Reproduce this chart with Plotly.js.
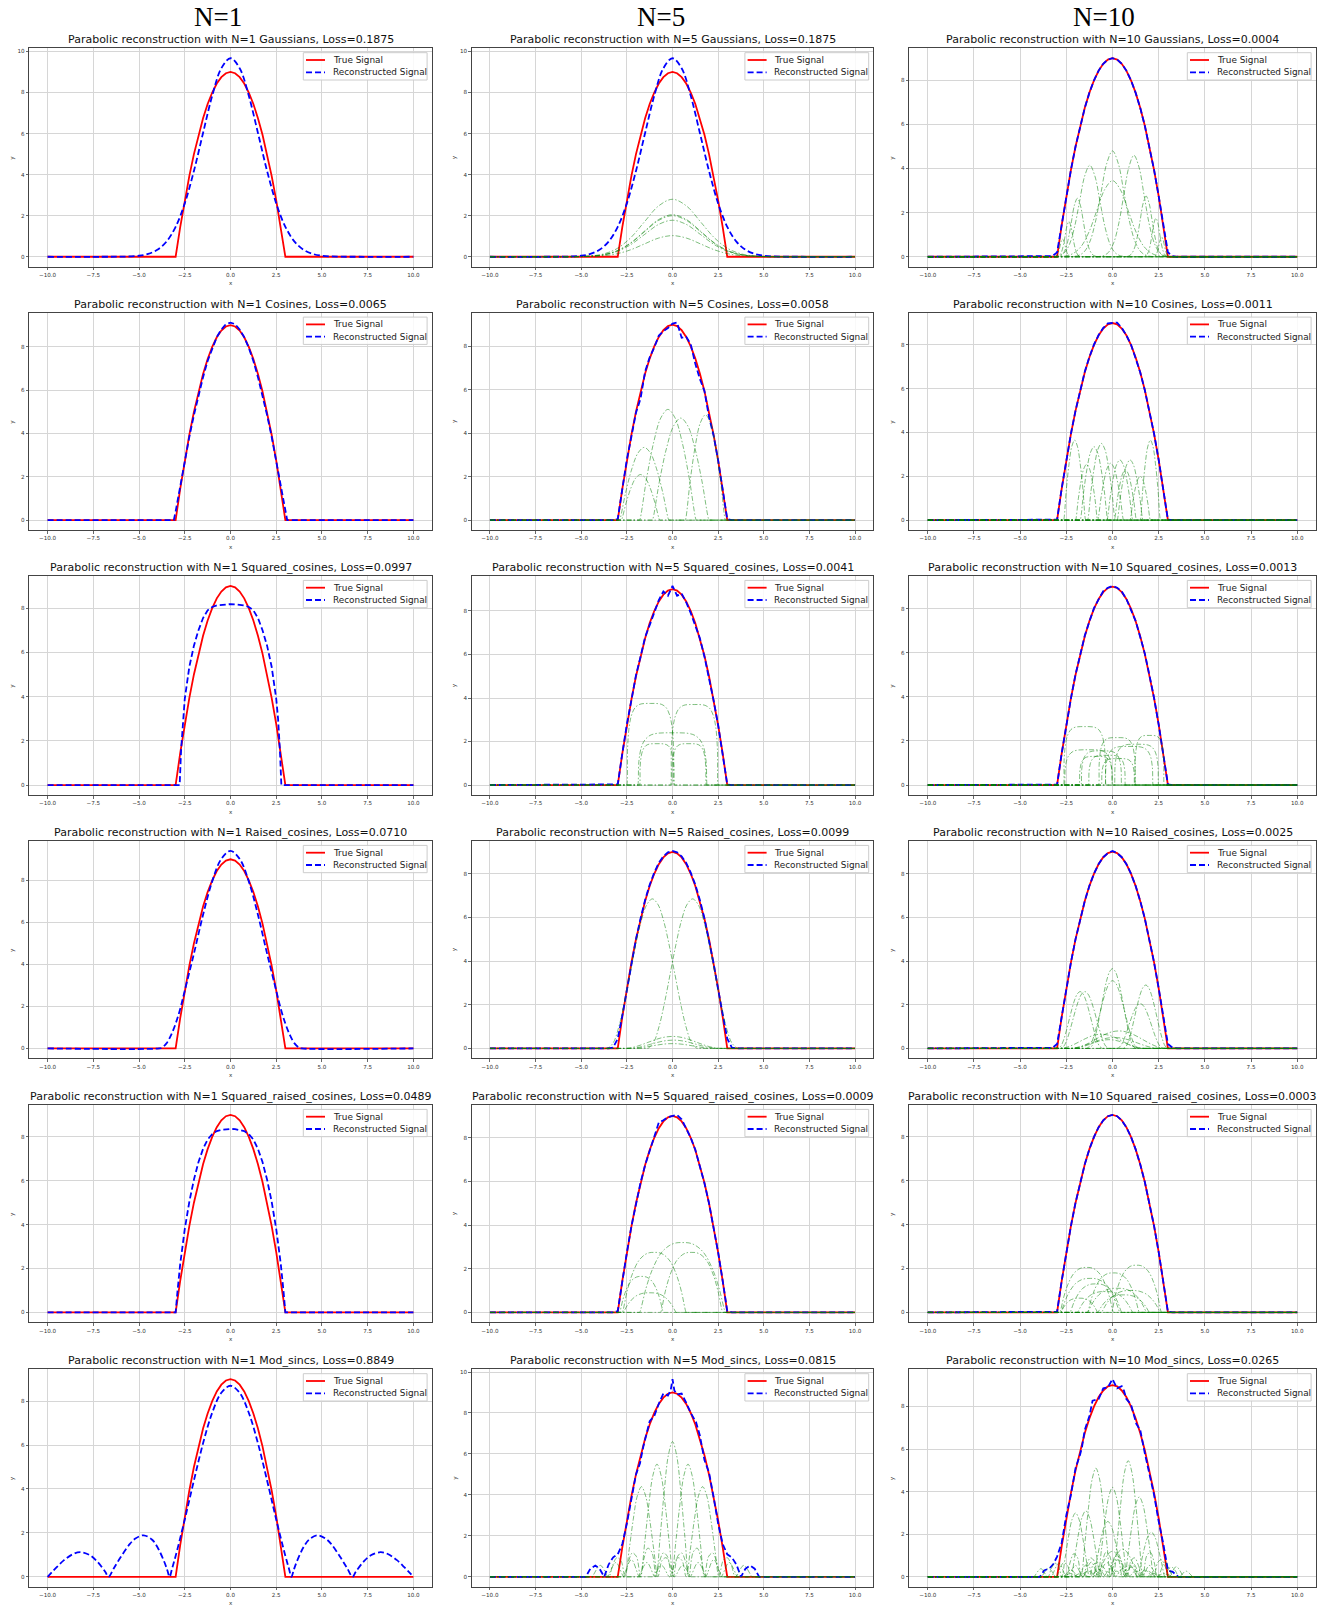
<!DOCTYPE html>
<html><head><meta charset="utf-8">
<script src="https://cdn.plot.ly/plotly-3.0.1.min.js"></script>
<style>html,body{margin:0;padding:0;background:#fff}#chart{width:1320px;height:1606px}</style>
</head><body><div id="chart"></div>
<script>
// ---------------- DATA ----------------
const colTitles = ["N=1", "N=5", "N=10"];
const Ns = [1, 5, 10];
const basisNames = ["Gaussians", "Cosines", "Squared_cosines", "Raised_cosines", "Squared_raised_cosines", "Mod_sincs"];
const losses = [
  ["0.1875", "0.1875", "0.0004"],
  ["0.0065", "0.0058", "0.0011"],
  ["0.0997", "0.0041", "0.0013"],
  ["0.0710", "0.0099", "0.0025"],
  ["0.0489", "0.0009", "0.0003"],
  ["0.8849", "0.0815", "0.0265"]
];
const legendLabels = ["True Signal", "Reconstructed Signal"];
const xTickVals = [-10, -7.5, -5, -2.5, 0, 2.5, 5, 7.5, 10];
const xTickText = ["\u221210.0", "\u22127.5", "\u22125.0", "\u22122.5", "0.0", "2.5", "5.0", "7.5", "10.0"];

// shared x grid for the true signal and most reconstructions
const gridA = [-10,-3.5,-3.25,-3,-2.75,-2.5,-2.25,-2,-1.75,-1.5,-1.25,-1,-0.75,-0.5,-0.25,0,0.25,0.5,0.75,1,1.25,1.5,1.75,2,2.25,2.5,2.75,3,3.25,3.5,10];
const trueY = [0,0,0,0,1.44,2.75,3.94,5,5.94,6.75,7.44,8,8.44,8.75,8.94,9,8.94,8.75,8.44,8,7.44,6.75,5.94,5,3.94,2.75,1.44,0,0,0,0];

// reconstructed signals
const gaussX = [-10,-7,-6,-5.5,-5,-4.5,-4,-3.5,-3,-2.5,-2,-1.5,-1,-0.5,0,0.5,1,1.5,2,2.5,3,3.5,4,4.5,5,5.5,6,7,10];
const gaussRecon1 = [0,0,0.005,0.017,0.05,0.14,0.34,0.74,1.46,2.6,4.18,6.03,7.84,9.18,9.67,9.18,7.84,6.03,4.18,2.6,1.46,0.74,0.34,0.14,0.05,0.017,0.005,0,0];
const gaussRecon5 = [0,0,0.005,0.017,0.05,0.14,0.34,0.74,1.46,2.6,4.18,6.03,7.84,9.18,9.67,9.18,7.84,6.03,4.18,2.6,1.46,0.74,0.34,0.14,0.05,0.017,0.005,0,0];
const gaussRecon10 = [0,0,0.03,0.2,1.45,2.75,3.94,5,5.94,6.75,7.44,8,8.44,8.75,8.94,9,8.94,8.75,8.44,8,7.44,6.75,5.94,5,3.94,2.75,1.45,0.2,0.03,0,0];

const cosX1 = [-10,-3.1,-3,-2.75,-2.5,-2.25,-2,-1.75,-1.5,-1.25,-1,-0.75,-0.5,-0.25,0,0.25,0.5,0.75,1,1.25,1.5,1.75,2,2.25,2.5,2.75,3,3.1,10];
const cosRecon1 = [0,0,0.4,1.6,2.75,3.85,4.85,5.75,6.6,7.35,7.95,8.45,8.8,9.05,9.12,9.05,8.8,8.45,7.95,7.35,6.6,5.75,4.85,3.85,2.75,1.6,0.4,0,0];
const cosRecon5 = [0,0,0,0.05,1.5,2.8,3.85,4.95,5.6,6.85,7.5,7.95,8.5,8.7,8.85,9.05,9.1,8.4,8.45,8.1,7.2,6.5,5.95,4.75,3.9,2.75,1.4,0.05,0,0,0];
const cosRecon10 = [0,0,0,0.02,1.45,2.78,3.95,5.0,5.95,6.78,7.45,8.02,8.45,8.78,8.98,9.0,9.02,8.78,8.44,8.02,7.42,6.75,5.93,5.0,3.95,2.75,1.44,0.02,0,0,0];

const sqcosX1 = [-10,-2.78,-2.7,-2.6,-2.5,-2.25,-2,-1.75,-1.5,-1.25,-1,-0.75,-0.5,-0.25,0,0.25,0.5,0.75,1,1.25,1.5,1.75,2,2.25,2.5,2.6,2.7,2.78,10];
const sqcosRecon1 = [0,0,1.6,3.0,3.9,5.35,6.3,7.0,7.55,7.9,8.05,8.12,8.15,8.17,8.18,8.17,8.15,8.12,8.05,7.9,7.55,7.0,6.3,5.35,3.9,3.0,1.6,0,0];
const sqcosRecon5 = [0,0,0,0.03,1.45,2.8,3.9,5.05,5.9,6.8,7.35,7.95,8.5,8.9,8.7,9.15,8.7,8.8,8.4,7.9,7.35,6.75,5.9,4.95,3.9,2.75,1.44,0.03,0,0,0];
const sqcosRecon10 = [0,0,0,0.02,1.44,2.76,3.93,5.02,5.92,6.78,7.42,8.03,8.42,8.8,8.95,9.03,8.95,8.78,8.44,7.98,7.45,6.72,5.96,4.98,3.95,2.74,1.45,0.03,0,0,0];

const rcX1 = [-10,-3.9,-3.75,-3.5,-3.25,-3,-2.75,-2.5,-2,-1.5,-1,-0.5,0,0.5,1,1.5,2,2.5,2.75,3,3.25,3.5,3.75,3.9,10];
const rcRecon1 = [0,0,0.034,0.24,0.63,1.18,1.88,2.75,4.51,6.36,7.95,9.02,9.4,9.02,7.95,6.36,4.51,2.75,1.88,1.18,0.63,0.24,0.034,0,0];
const rcRecon5 = [0,0,0.04,0.45,1.5,2.7,3.9,5.0,5.95,6.8,7.5,8.05,8.5,8.8,8.98,9.05,8.98,8.8,8.5,8.05,7.5,6.8,5.95,5.0,3.9,2.7,1.5,0.45,0.04,0,0];
const rcRecon10 = [0,0,0.03,0.2,1.45,2.76,3.94,5,5.94,6.75,7.44,8,8.44,8.75,8.94,9.04,8.94,8.75,8.44,8,7.44,6.75,5.94,5,3.94,2.76,1.45,0.2,0.03,0,0];

const srcX1 = [-10,-3,-2.9,-2.75,-2.5,-2.25,-2,-1.75,-1.5,-1.25,-1,-0.75,-0.5,-0.25,0,0.25,0.5,0.75,1,1.25,1.5,1.75,2,2.25,2.5,2.75,2.9,3,10];
const srcRecon1 = [0,0,0.95,2.2,3.8,5.05,6.05,6.85,7.45,7.88,8.12,8.26,8.32,8.35,8.36,8.35,8.32,8.26,8.12,7.88,7.45,6.85,6.05,5.05,3.8,2.2,0.95,0,0];
const srcRecon5 = [0,0,0,0.06,1.45,2.75,3.95,5,5.95,6.75,7.45,8.05,8.7,8.8,8.95,9.0,9.05,8.85,8.45,8.0,7.45,6.72,5.92,5.0,3.93,2.75,1.45,0.06,0,0,0];
const srcRecon10 = [0,0,0,0.03,1.44,2.75,3.94,5,5.94,6.75,7.44,8,8.44,8.75,8.94,9,8.94,8.75,8.44,8,7.44,6.75,5.94,5,3.94,2.75,1.44,0.03,0,0,0];

const msincX1 = [-10,-9.8,-9.5,-9.1,-8.6,-8.2,-7.7,-7.3,-6.85,-6.67,-6.4,-6,-5.5,-5.2,-4.75,-4.3,-4,-3.6,-3.45,-3.33,-3.2,-3,-2.5,-2,-1.5,-1,-0.5,0,0.5,1,1.5,2,2.5,3,3.2,3.33,3.45,3.6,4,4.3,4.75,5.2,5.5,6,6.4,6.67,6.85,7.3,7.7,8.2,8.6,9.1,9.5,9.8,10];
const msincRecon1 = [0,0.18,0.44,0.76,1.04,1.12,0.99,0.71,0.23,0,0.36,0.9,1.5,1.74,1.89,1.7,1.36,0.64,0.29,0,0.36,0.95,2.61,4.39,6.08,7.47,8.38,8.7,8.38,7.47,6.08,4.39,2.61,0.95,0.36,0,0.29,0.64,1.36,1.7,1.89,1.74,1.5,0.9,0.36,0,0.23,0.71,0.99,1.12,1.04,0.76,0.44,0.18,0];
const msincX5 = [-10,-4.75,-4.5,-4.23,-4,-3.74,-3.5,-3.25,-3,-2.75,-2.5,-2.25,-2,-1.78,-1.6,-1.25,-1,-0.75,-0.5,-0.25,-0.1,0,0.1,0.25,0.5,0.75,1,1.29,1.5,1.75,2,2.25,2.5,2.75,3,3.25,3.5,3.75,4,4.25,4.5,4.75,10];
const msincRecon5 = [0,0,0.4,0.55,0.4,0,0.6,0.95,1.1,1.6,2.6,3.9,5.0,5.55,6.35,7.6,7.85,8.45,8.95,8.85,9.1,9.65,9.1,8.9,8.95,8.5,8.0,7.55,6.9,5.7,5.1,3.9,2.6,1.6,1.1,0.95,0.6,0,0.4,0.55,0.4,0,0];
const msincX10 = [-10,-3.93,-3.7,-3.41,-3.2,-3,-2.75,-2.5,-2.25,-2,-1.75,-1.65,-1.5,-1.25,-1.08,-0.75,-0.5,-0.25,0,0.25,0.5,0.62,0.75,1,1.29,1.5,1.75,1.96,2.25,2.5,2.75,3,3.26,3.57,10];
const msincRecon10 = [0,0,0.3,0.4,0.6,0.95,1.6,2.9,3.85,5.1,5.75,6.1,6.9,7.55,8.27,8.35,8.85,8.9,9.28,8.85,8.95,8.74,8.35,8.1,7.18,6.9,5.8,4.99,3.85,2.6,1.55,0.3,0.23,0,0];

// basis-function profiles (normalised shape of one component)
const gaussU = [-4,-3.5,-3,-2.5,-2,-1.5,-1,-0.5,0,0.5,1,1.5,2,2.5,3,3.5,4];
const gaussV = [0.0003,0.0022,0.0111,0.0439,0.1353,0.3247,0.6065,0.8825,1,0.8825,0.6065,0.3247,0.1353,0.0439,0.0111,0.0022,0.0003];
const cosU = [-1,-0.75,-0.5,-0.25,0,0.25,0.5,0.75,1];
const cosV = [0,0.383,0.707,0.924,1,0.924,0.707,0.383,0];
const sqcosU = [-1,-0.97,-0.9,-0.8,-0.65,-0.45,-0.2,0,0.2,0.45,0.65,0.8,0.9,0.97,1];
const sqcosV = [0,0.45,0.72,0.86,0.95,0.99,1,1,1,0.99,0.95,0.86,0.72,0.45,0];
const rcU = [-1,-0.875,-0.75,-0.625,-0.5,-0.375,-0.25,-0.125,0,0.125,0.25,0.375,0.5,0.625,0.75,0.875,1];
const rcV = [0,0.038,0.146,0.309,0.5,0.691,0.854,0.962,1,0.962,0.854,0.691,0.5,0.309,0.146,0.038,0];
const srcU = [-1,-0.85,-0.7,-0.5,-0.3,-0.15,0,0.15,0.3,0.5,0.7,0.85,1];
const srcV = [0,0.35,0.62,0.85,0.96,0.995,1,0.995,0.96,0.85,0.62,0.35,0];
const msincU = [-3,-2.5,-2,-1.75,-1.5,-1.25,-1,-0.75,-0.5,-0.25,0,0.25,0.5,0.75,1,1.25,1.5,1.75,2,2.5,3];
const msincV = [0,0.127,0,0.129,0.212,0.18,0,0.3,0.637,0.9,1,0.9,0.637,0.3,0,0.18,0.212,0.129,0,0.127,0];

// components: [centre, width scale, height]
const gaussComp5 = [[0,1.54,2.8],[0,1.54,2.05],[0,1.54,2.0],[0,1.54,1.78],[0,1.54,1.03]];
const gaussComp10 = [[0,0.62,4.8],[0,0.85,3.45],[-1.23,0.55,4.15],[1.16,0.55,4.6],[-1.9,0.32,2.65],[1.82,0.32,2.75],[-2.36,0.2,1.6],[2.35,0.2,1.75],[-2.7,0.14,0.8],[2.66,0.14,0.9]];
const cosComp5 = [[-1.55,1.35,3.35],[-1.75,1.05,2.1],[-0.25,1.55,5.1],[0.45,1.55,4.7],[1.8,1.1,4.85]];
const cosComp10 = [[-2.05,0.6,3.65],[2.05,0.55,3.65],[-1.0,0.75,3.35],[-0.6,0.75,3.5],[-1.4,0.6,2.55],[-0.1,0.7,2.6],[0.4,0.7,2.75],[0.95,0.7,2.75],[1.5,0.55,2.0],[0.7,0.6,2.3]];
const sqcosComp5 = [[-1.2,1.3,3.75],[1.2,1.3,3.7],[0.0,1.9,2.4],[-0.85,0.95,1.9],[0.9,0.95,1.9]];
const sqcosComp10 = [[-1.5,1.15,2.65],[0.25,1.0,2.15],[2.0,0.8,2.25],[-1.3,1.3,1.6],[-0.6,1.1,1.55],[1.3,1.2,1.85],[0.9,1.3,1.75],[-0.3,1.0,1.35],[0.3,0.9,1.2],[-0.9,0.9,1.3]];
const rcComp5 = [[-1.1,2.45,6.85],[1.1,2.45,6.85],[0.0,2.7,0.55],[0.05,2.5,0.38],[0.0,2.3,0.22]];
const rcComp10 = [[0,1.25,3.65],[0,1.4,3.1],[-1.75,1.2,2.6],[-1.5,1.3,2.6],[1.8,1.2,2.9],[1.5,1.25,2.05],[0.35,2.6,0.8],[-0.6,2.3,0.65],[0.1,2.5,0.5],[-0.2,2.0,0.4]];
const srcComp5 = [[0.55,2.35,3.2],[-1.0,1.75,2.75],[1.05,1.7,2.75],[-1.7,1.2,1.65],[-1.25,1.45,0.9]];
const srcComp10 = [[-1.4,1.45,2.05],[1.3,1.35,2.15],[0.05,1.4,1.8],[-1.2,1.6,1.55],[0.25,1.6,1.1],[1.0,1.6,1.0],[-0.4,1.5,0.95],[0.6,1.4,0.8],[-1.8,1.0,0.65],[-0.9,1.4,1.3]];
const msincComp5 = [[0,0.9,6.6],[-0.85,0.9,5.5],[0.85,0.9,5.5],[-1.7,0.9,4.4],[1.65,0.9,4.4]];
const msincComp10 = [[-0.9,0.8,5.1],[0.85,0.8,5.45],[0,0.8,4.2],[1.45,0.8,3.75],[-2.0,0.75,3.0],[-1.45,0.8,3.1],[-0.25,0.8,2.6],[2.1,0.75,2.1],[0,0.9,1.2],[0.55,0.9,1.3]];

// ---------------- LAYOUT ----------------
const W = 1320, H = 1606;
const colPx = [[29.3, 431.7], [471.7, 873.3], [909.3, 1315.7]];
const rowPx = [[48.3, 266.7], [312.7, 530], [576, 795], [841, 1058.3], [1105, 1322.3], [1369.3, 1586.7]];
const colTitleX = [218, 661, 1104];
const xDomain = [-10, 10];

const panels = [
  [{rx:gaussX, ry:gaussRecon1, sh:'spline'}, {rx:gaussX, ry:gaussRecon5, sh:'spline', comps:gaussComp5, U:gaussU, V:gaussV}, {rx:gridA, ry:gaussRecon10, sh:'linear', comps:gaussComp10, U:gaussU, V:gaussV}],
  [{rx:cosX1, ry:cosRecon1, sh:'linear'}, {rx:gridA, ry:cosRecon5, sh:'linear', comps:cosComp5, U:cosU, V:cosV}, {rx:gridA, ry:cosRecon10, sh:'linear', comps:cosComp10, U:cosU, V:cosV}],
  [{rx:sqcosX1, ry:sqcosRecon1, sh:'linear'}, {rx:gridA, ry:sqcosRecon5, sh:'linear', comps:sqcosComp5, U:sqcosU, V:sqcosV}, {rx:gridA, ry:sqcosRecon10, sh:'linear', comps:sqcosComp10, U:sqcosU, V:sqcosV}],
  [{rx:rcX1, ry:rcRecon1, sh:'spline'}, {rx:gridA, ry:rcRecon5, sh:'linear', comps:rcComp5, U:rcU, V:rcV}, {rx:gridA, ry:rcRecon10, sh:'linear', comps:rcComp10, U:rcU, V:rcV}],
  [{rx:srcX1, ry:srcRecon1, sh:'linear'}, {rx:gridA, ry:srcRecon5, sh:'linear', comps:srcComp5, U:srcU, V:srcV}, {rx:gridA, ry:srcRecon10, sh:'linear', comps:srcComp10, U:srcU, V:srcV}],
  [{rx:msincX1, ry:msincRecon1, sh:'spline'}, {rx:msincX5, ry:msincRecon5, sh:'linear', comps:msincComp5, U:msincU, V:msincV}, {rx:msincX10, ry:msincRecon10, sh:'linear', comps:msincComp10, U:msincU, V:msincV}]
];

const FONT = 'DejaVu Sans, Verdana, sans-serif';
const traces = [];
const layout = {
  width: W, height: H, margin: {l:0, r:0, t:0, b:0},
  paper_bgcolor: '#ffffff', plot_bgcolor: '#ffffff', showlegend: false,
  font: {family: FONT, color: '#222'},
  annotations: [], shapes: []
};
const PX = p => p / W, PY = p => 1 - p / H;

function componentXY(spec, U, V) {
  const [c, s, h] = spec;
  const xs = [xDomain[0], c + U[0] * s - 0.02], ys = [0, 0];
  for (let i = 0; i < U.length; i++) { xs.push(c + U[i] * s); ys.push(h * V[i]); }
  xs.push(c + U[U.length - 1] * s + 0.02, xDomain[1]); ys.push(0, 0);
  return [xs, ys];
}

for (let r = 0; r < 6; r++) {
  for (let c = 0; c < 3; c++) {
    const id = r * 3 + c + 1;
    const xa = id === 1 ? 'x' : 'x' + id, ya = id === 1 ? 'y' : 'y' + id;
    const d = panels[r][c];
    let maxY = Math.max(...trueY, ...d.ry);
    traces.push({type:'scatter', mode:'lines', x:gridA, y:trueY, xaxis:xa, yaxis:ya, hoverinfo:'skip',
      line:{color:'#ff0000', width:1.8}});
    traces.push({type:'scatter', mode:'lines', x:d.rx, y:d.ry, xaxis:xa, yaxis:ya, hoverinfo:'skip',
      line:{color:'#0000ff', width:1.8, dash:'6px,3px', shape:d.sh}});
    if (d.comps) {
      d.comps.forEach(spec => {
        const [xs, ys] = componentXY(spec, d.U, d.V);
        maxY = Math.max(maxY, ...ys);
        traces.push({type:'scatter', mode:'lines', x:xs, y:ys, xaxis:xa, yaxis:ya, hoverinfo:'skip',
          line:{color:'rgba(0,128,0,0.5)', width:1, dash:'5px,2px,1.5px,2px', shape:'spline'}});
      });
    }
    const [L, R] = colPx[c], [T, B] = rowPx[r];
    const common = {showgrid:true, gridcolor:'#d6d6d6', gridwidth:1, zeroline:false,
      showline:true, linecolor:'#444', linewidth:1, mirror:true,
      ticks:'outside', ticklen:2.5, tickwidth:0.8, tickcolor:'#444',
      tickfont:{family:FONT, size:5.6, color:'#333'}, fixedrange:true};
    layout['xaxis' + (id === 1 ? '' : id)] = Object.assign({}, common, {
      domain:[PX(L), PX(R)], anchor:ya, range:[-11, 11],
      tickmode:'array', tickvals:xTickVals, ticktext:xTickText});
    layout['yaxis' + (id === 1 ? '' : id)] = Object.assign({}, common, {
      domain:[PY(B), PY(T)], anchor:xa, range:[-0.05 * maxY, 1.05 * maxY],
      tick0:0, dtick:2});
    // subplot title
    layout.annotations.push({xref:'paper', yref:'paper', x:PX((L + R) / 2), y:PY(T), xanchor:'center', yanchor:'bottom',
      text:`Parabolic reconstruction with N=${Ns[c]} ${basisNames[r]}, Loss=${losses[r][c]}`,
      showarrow:false, font:{family:FONT, size:11, color:'#111'}});
    // axis labels
    layout.annotations.push({xref:'paper', yref:'paper', x:PX((L + R) / 2), y:PY(B + 16.6), xanchor:'center', yanchor:'middle',
      text:'x', showarrow:false, font:{family:FONT, size:5.6, color:'#333'}});
    layout.annotations.push({xref:'paper', yref:'paper', x:PX(L - 17), y:PY((T + B) / 2), xanchor:'center', yanchor:'middle',
      text:'y', textangle:-90, showarrow:false, font:{family:FONT, size:5.6, color:'#333'}});
    // legend (box, line samples, labels)
    layout.shapes.push({type:'rect', xref:'paper', yref:'paper', x0:PX(R - 128.4), x1:PX(R - 4.6), y0:PY(T + 4.4), y1:PY(T + 31.7),
      fillcolor:'rgba(255,255,255,0.85)', line:{color:'#cccccc', width:1}, layer:'above'});
    const ly = [T + 11.7, T + 24];
    layout.shapes.push({type:'line', xref:'paper', yref:'paper', x0:PX(R - 125.7), x1:PX(R - 106.7), y0:PY(ly[0]), y1:PY(ly[0]),
      line:{color:'#ff0000', width:1.8}, layer:'above'});
    layout.shapes.push({type:'line', xref:'paper', yref:'paper', x0:PX(R - 125.7), x1:PX(R - 106.7), y0:PY(ly[1]), y1:PY(ly[1]),
      line:{color:'#0000ff', width:1.8, dash:'6px,3px'}, layer:'above'});
    legendLabels.forEach((t, k) => layout.annotations.push({xref:'paper', yref:'paper', x:PX(R - 101), y:PY(ly[k]),
      xanchor:'left', yanchor:'middle', text:t, showarrow:false, font:{family:FONT, size:8.9, color:'#222'}}));
  }
}
colTitles.forEach((t, c) => layout.annotations.push({xref:'paper', yref:'paper', x:PX(colTitleX[c]), y:PY(17), xanchor:'center', yanchor:'middle',
  text:t, showarrow:false, font:{family:'Liberation Serif, Times New Roman, serif', size:27, color:'#000'}}));

Plotly.newPlot('chart', traces, layout, {staticPlot:true, displayModeBar:false});
</script>
</body></html>
